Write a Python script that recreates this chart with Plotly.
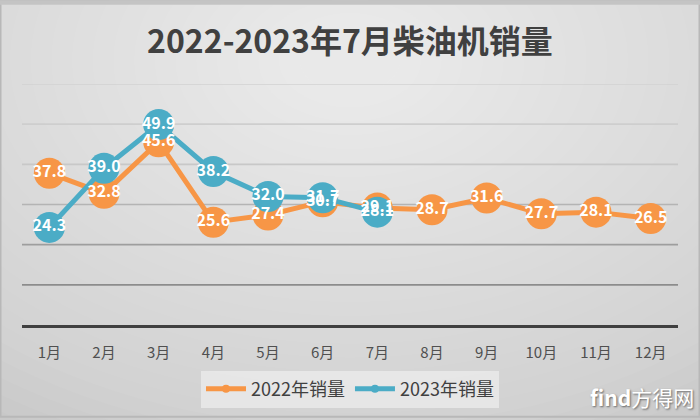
import plotly.graph_objects as go

months = ["1月", "2月", "3月", "4月", "5月", "6月", "7月", "8月", "9月", "10月", "11月", "12月"]
sales_2022 = [37.8, 32.8, 45.6, 25.6, 27.4, 30.7, 29.1, 28.7, 31.6, 27.7, 28.1, 26.5]
sales_2023 = [24.3, 39.0, 49.9, 38.2, 32.0, 31.7, 28.1]
grid_values = [10, 20, 30, 40, 50, 60]
grid_colors = ["#8c8c8c", "#9e9e9e", "#b4b4b4", "#c8c8c8", "#cecece", "#d2d2d2"]
series_names = ["2022年销量", "2023年销量"]
series_colors = ["#F79646", "#4BACC6"]

W, H = 700, 420
L, R, T, B = 22, 22, 84, 93
PW, PH = W - L - R, H - T - B


def px_x(p):
    return (p - L) / PW


def px_y(p):
    return (H - B - p) / PH


fig = go.Figure()

for name, vals, col in zip(series_names, [sales_2022, sales_2023], series_colors):
    fig.add_trace(go.Scatter(
        x=months[:len(vals)], y=vals, mode="lines+markers", name=name,
        line=dict(color=col, width=5), marker=dict(color=col, size=31),
        showlegend=False, hoverinfo="skip"))

for name, vals, col in zip(series_names, [sales_2022, sales_2023], series_colors):
    fig.add_trace(go.Scatter(
        x=months[:len(vals)], y=vals, mode="text", texttemplate="%{y:.1f}",
        textposition="middle center",
        textfont=dict(color="white", size=16, family="Noto Sans CJK SC", weight="bold"),
        showlegend=False, hoverinfo="skip"))

for name, col in zip(series_names, series_colors):
    fig.add_trace(go.Scatter(
        x=[None], y=[None], mode="lines+markers", name=name,
        line=dict(color=col, width=5), marker=dict(color=col, size=8)))

shapes = []
# radial-ish background gradient
cx, cy = 350, 60
n = 30
for i in range(n):
    f = 1 - i / n
    rx, ry = 620 * f + 30, 420 * f + 20
    shapes.append(dict(type="circle", xref="paper", yref="paper",
                       x0=px_x(cx - rx), x1=px_x(cx + rx),
                       y0=px_y(cy + ry), y1=px_y(cy - ry),
                       fillcolor="white", opacity=0.042, line=dict(width=0),
                       layer="below"))
for v, c in zip(grid_values, grid_colors):
    shapes.append(dict(type="line", xref="paper", yref="y", x0=0, x1=1, y0=v, y1=v,
                       line=dict(color=c, width=1.6), layer="below"))
# outer border
shapes.append(dict(type="rect", xref="paper", yref="paper",
                   x0=px_x(0.5), x1=px_x(W - 0.5), y0=px_y(H - 0.5), y1=px_y(0.5),
                   line=dict(color="#b8b8b8", width=2), layer="above"))
shapes.append(dict(type="line", xref="paper", yref="paper",
                   x0=px_x(0), x1=px_x(W), y0=px_y(2), y1=px_y(2),
                   line=dict(color="#c4c4c4", width=4), layer="above"))

fig.update_layout(
    width=W, height=H,
    margin=dict(l=L, r=R, t=T, b=B),
    paper_bgcolor="#c6c6c6",
    plot_bgcolor="rgba(0,0,0,0)",
    shapes=shapes,
    title=dict(text="2022-2023年7月柴油机销量", x=0.5, xanchor="center",
               y=1 - 42 / H, yanchor="middle", yref="container",
               font=dict(family="Noto Sans CJK SC", size=32, color="#404040", weight="bold")),
    xaxis=dict(type="category", categoryarray=months, categoryorder="array",
               range=[-0.5, 11.5], showgrid=False, zeroline=False,
               showline=True, linecolor="#404040", linewidth=3,
               ticks="", ticklabelstandoff=12,
               tickfont=dict(family="Noto Sans CJK SC", size=15, color="#505050"),
               fixedrange=True),
    yaxis=dict(range=[0, 60], showgrid=False, zeroline=False, showticklabels=False,
               showline=False, fixedrange=True),
    legend=dict(orientation="h", x=0.5, xanchor="center", y=px_y(373), yanchor="top",
                bgcolor="rgba(236,236,236,0.75)",
                font=dict(family="Noto Sans CJK SC", size=18, color="#404040"),
                itemwidth=40, entrywidth=0),
    showlegend=True,
    annotations=[dict(text="<b>find</b>方得网", xref="paper", yref="paper",
                      x=px_x(696), y=px_y(400), xanchor="right", yanchor="middle",
                      showarrow=False,
                      font=dict(family="Noto Sans CJK SC", size=21, color="white",
                                shadow="1px 1px 2px #666"))],
)

fig.write_html("out.html")
